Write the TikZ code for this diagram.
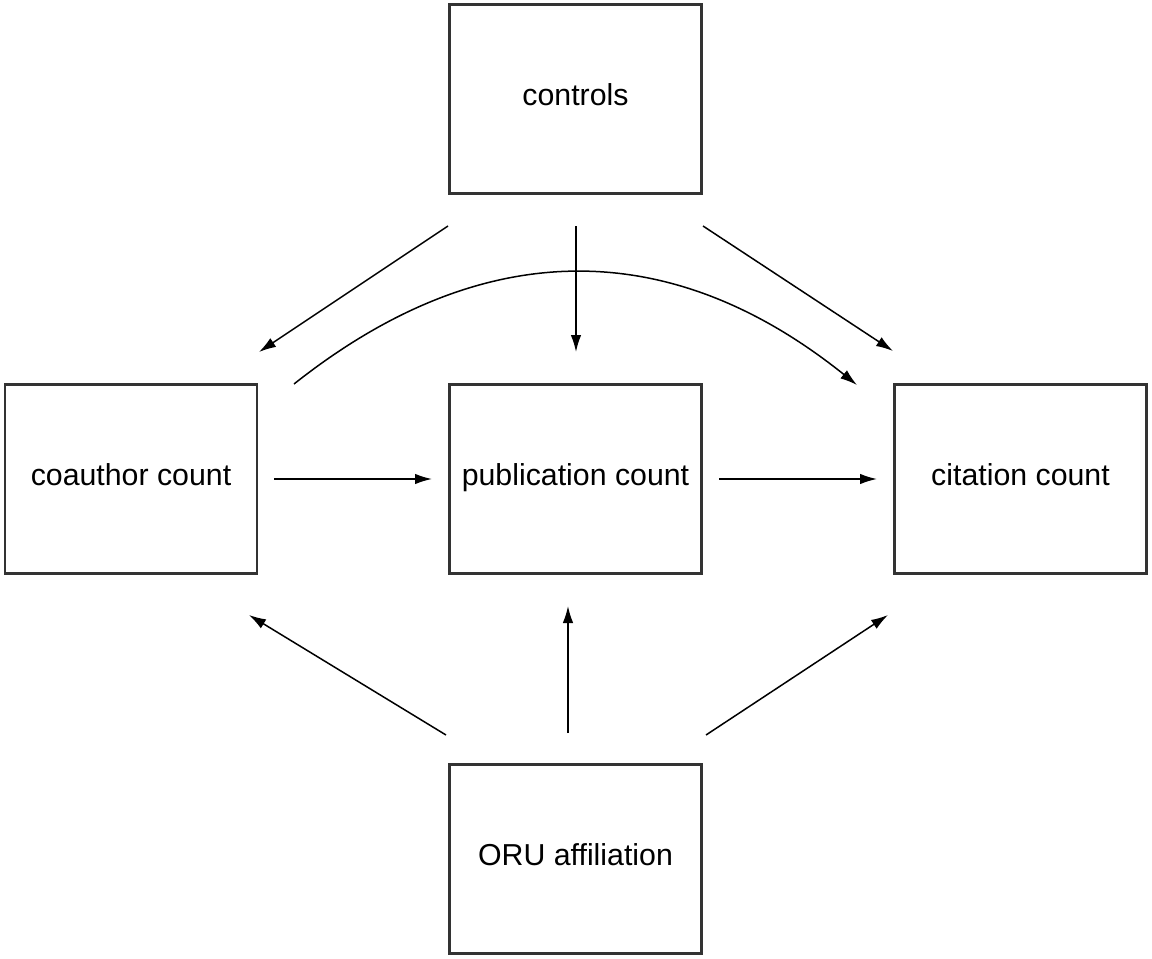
\documentclass[tikz,border=0pt]{standalone}
\usepackage{fontspec}
\setmainfont{Liberation Sans}
\usetikzlibrary{arrows.meta}
\begin{document}
\begin{tikzpicture}[x=1pt,y=-1pt,
  box/.style={draw=black!80, line width=2.2pt, minimum width=252pt, minimum height=189pt, inner sep=0pt, font=\fontsize{30.3}{36}\selectfont},
  conn/.style={line width=1.5pt, -{Latex[length=17pt,width=10.5pt]}}]
\useasboundingbox (0,0) rectangle (1152,959);
\node[box] (controls) at (575.5,99) {\raisebox{8pt}{controls}};
\node[box] (coauthor) at (131,479) {\raisebox{8pt}{coauthor count}};
\node[box] (pub) at (575.5,479) {\raisebox{8pt}{publication count}};
\node[box] (cit) at (1020.5,479) {\raisebox{8pt}{citation count}};
\node[box] (oru) at (575.5,859) {\raisebox{8pt}{ORU affiliation}};
% free-end coordinates
\coordinate (c1s) at (448,226); \coordinate (c1e) at (259,352);
\coordinate (c2s) at (576,226); \coordinate (c2e) at (576,352);
\coordinate (c3s) at (703,226); \coordinate (c3e) at (893,351);
\coordinate (cvs) at (294,384); \coordinate (cve) at (857,385);
\coordinate (h1s) at (274,479); \coordinate (h1e) at (432,479);
\coordinate (h2s) at (719,479); \coordinate (h2e) at (877,479);
\coordinate (o1s) at (446,735); \coordinate (o1e) at (249,615);
\coordinate (o2s) at (568,733); \coordinate (o2e) at (568,606);
\coordinate (o3s) at (706,735); \coordinate (o3e) at (888,615);
\draw[conn] (c1s) -- (c1e);
\draw[conn] (c2s) -- (c2e);
\draw[conn] (c3s) -- (c3e);
\draw[conn] (cvs) .. controls (482,235) and (670,235) .. (cve);
\draw[conn] (h1s) -- (h1e);
\draw[conn] (h2s) -- (h2e);
\draw[conn] (o1s) -- (o1e);
\draw[conn] (o2s) -- (o2e);
\draw[conn] (o3s) -- (o3e);
\end{tikzpicture}
\end{document}
